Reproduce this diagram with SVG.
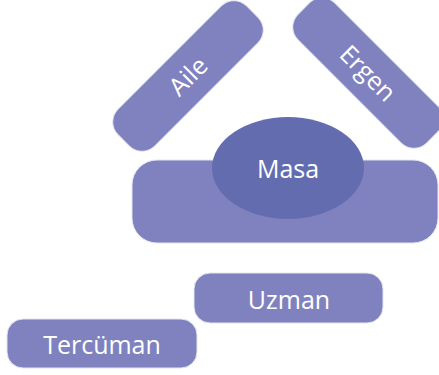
<svg xmlns="http://www.w3.org/2000/svg" width="439" height="375" viewBox="0 0 439 375">
<style>
.box{fill:#7F82BF;stroke:#E4E5F3;stroke-width:1}
.oval{fill:#646CB0}
.lbl{font-family:"Open Sans","DejaVu Sans",sans-serif;font-size:25px;font-weight:400;fill:#FFFFFF;text-anchor:middle}
</style>
<rect width="439" height="375" fill="#FFFFFF"/>
<g id="aile" transform="translate(188,76) rotate(-45)">
<rect class="box" x="-91" y="-26" width="182" height="52" rx="18"/>
<text class="lbl" x="0" y="9">Aile</text>
</g>
<g id="ergen" transform="translate(368,73) rotate(45)">
<rect class="box" x="-91" y="-26" width="182" height="52" rx="18"/>
<text class="lbl" x="0" y="9">Ergen</text>
</g>
<g id="table">
<rect class="box" x="132" y="160" width="306" height="83" rx="25"/>
</g>
<g id="masa">
<ellipse class="oval" cx="288" cy="168" rx="76" ry="51"/>
<text class="lbl" x="288" y="178">Masa</text>
</g>
<g id="uzman">
<rect class="box" x="194" y="273" width="189" height="50" rx="16"/>
<text class="lbl" x="289" y="309">Uzman</text>
</g>
<g id="tercuman">
<rect class="box" x="7" y="319" width="190" height="49" rx="16"/>
<text class="lbl" x="102" y="354">Tercüman</text>
</g>
<g id="connectors"/>
</svg>
